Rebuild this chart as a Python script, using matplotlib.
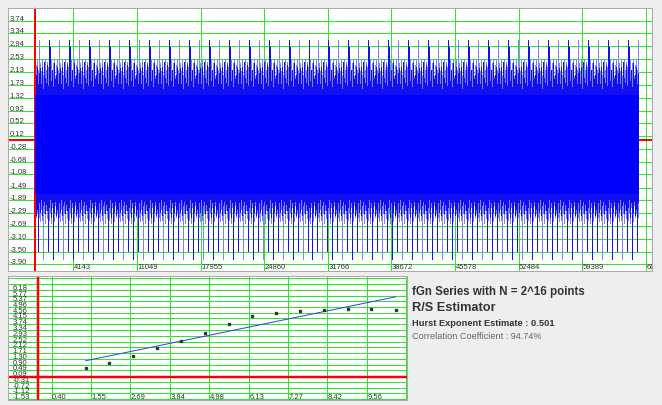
import numpy as np
import matplotlib
matplotlib.use('Agg')
import matplotlib.pyplot as plt
from matplotlib import transforms

plt.rcParams['font.family'] = ['Liberation Sans', 'DejaVu Sans']

# ---- data ----
n_points = 65536
top_xticks = [4143, 11049, 17955, 24860, 31766, 38672, 45578, 52484, 59389, 66295]
top_yticks = [3.74, 3.34, 2.94, 2.53, 2.13, 1.73, 1.32, 0.92, 0.52, 0.12,
              -0.28, -0.68, -1.08, -1.49, -1.89, -2.29, -2.69, -3.10, -3.50, -3.90]

# solid body of the fGn trace, and one repeating block of 20 pixel columns
# (the trace repeats itself every ~10 px, spikes read from top/bottom edges)
core_top = 1.40
core_bottom = -1.70
upper_light = [3.13, 2.40, 2.15, 2.50, 2.05, 2.35, 2.55, 2.20, 2.45, 2.30,
               2.60, 2.25, 2.50, 2.10, 2.40, 2.55, 2.00, 2.35, 2.50, 2.20]
upper_dark = [2.10, 2.25, 1.75, 2.30, 1.60, 2.45, 1.95, 1.80, 2.35, 1.70,
              3.13, 2.90, 1.85, 2.20, 1.65, 2.40, 1.90, 2.05, 2.30, 1.75]
lower_light = [-2.40, -2.55, -2.15, -2.50, -3.73, -2.30, -2.60, -2.20, -2.45, -2.35,
               -2.50, -2.25, -2.60, -2.10, -2.45, -2.55, -2.05, -2.40, -2.30, -2.50]
lower_dark = [-1.95, -2.25, -1.85, -2.35, -2.05, -1.90, -2.30, -2.00, -2.20, -3.47,
              -2.10, -1.85, -2.40, -1.95, -3.73, -2.25, -1.90, -2.35, -2.15, -3.47]

# R/S estimator: ln(n) vs ln(R/S)
log_n = [1.39, 2.08, 2.77, 3.47, 4.16, 4.85, 5.55, 6.24, 6.93, 7.62, 8.32, 9.01, 9.70, 10.40]
log_rs = [0.66, 1.01, 1.52, 2.07, 2.58, 3.13, 3.76, 4.30, 4.54, 4.66, 4.75, 4.82, 4.84, 4.77]
hurst = 0.501
intercept = 0.47
corr = 94.74

bot_xticks = [0.40, 1.55, 2.69, 3.84, 4.98, 6.13, 7.27, 8.42, 9.56, 10.71]
bot_yticks = [6.18, 5.77, 5.37, 4.96, 4.56, 4.15, 3.74, 3.34, 2.93, 2.52,
              2.12, 1.71, 1.30, 0.90, 0.49, 0.09, -0.31, -0.72, -1.12, -1.53]
bot_extra_grid = [6.59, 6.99]

# ---- style ----
W, H = 662, 406
green = '#2EE62E'
red = '#FF0000'
blue = '#0000FF'
light_blue = '#8080FF'
dark_blue = '#1010F0'
txt = '#333333'
px = 0.72  # one pixel in points

fig = plt.figure(figsize=(W / 100, H / 100), dpi=100, facecolor='#EEEEEE')


def box(l, t, r, b):
    return [l / W, 1 - b / H, (r - l) / W, (b - t) / H]


# ===== top panel: the series =====
ax = fig.add_axes(box(8, 9, 651.7, 271.7))
ax.set_facecolor('white')
ax.set_xlim(-2941, 66927)
ax.set_ylim(-4.097, 4.138)
ax.set_xticks([])
ax.set_yticks([])
for s in ax.spines.values():
    s.set_color('#A8A8A8')
    s.set_linewidth(0.7)

for y in top_yticks:
    ax.axhline(y, color=green, lw=px, zorder=0.5)
for x in top_xticks:
    ax.axvline(x, color=green, lw=px, zorder=0.5)
ax.axhline(0, color=red, lw=2 * px, zorder=1)
ax.axvline(0, color=red, lw=2 * px, zorder=1)

n_cols = 604
block = len(upper_light)
col_w = n_points / n_cols
cols = np.arange(n_cols)
xs = cols * col_w + col_w / 2
idx = (cols - 3) % block
ax.fill_between([0, n_points], core_bottom, core_top, color=blue, lw=0, zorder=2.5)
for hi, c, z in [(upper_light, light_blue, 2), (upper_dark, dark_blue, 2.1)]:
    ax.vlines(xs, core_top, np.array(hi)[idx], colors=c, lw=px, zorder=z,
              antialiased=False)
for lo, c, z in [(lower_light, light_blue, 2), (lower_dark, dark_blue, 2.1)]:
    ax.vlines(xs, core_bottom, np.array(lo)[idx], colors=c, lw=px, zorder=z,
              antialiased=False)

ytr = transforms.offset_copy(ax.get_yaxis_transform(), fig=fig, y=1, units='dots')
for y in top_yticks:
    ax.text(0.002, y, '%.2f' % y, transform=ytr, fontsize=5.5, color=txt,
            ha='left', va='baseline', zorder=3)
xtr = transforms.offset_copy(ax.get_xaxis_transform(), fig=fig, x=0.5, units='dots')
for x in top_xticks:
    ax.text(x, 0.016, '%d' % x, transform=xtr, fontsize=5.5, color=txt,
            ha='left', va='center', zorder=3, clip_on=True)

# ===== bottom panel: R/S estimator =====
bx = fig.add_axes(box(8, 277, 407, 401))
bx.set_facecolor('white')
bx.set_xlim(-0.869, 10.733)
bx.set_ylim(-1.602, 7.149)
bx.set_xticks([])
bx.set_yticks([])
for s in bx.spines.values():
    s.set_color('#A8A8A8')
    s.set_linewidth(0.7)

for y in bot_yticks + bot_extra_grid:
    bx.axhline(y, color=green, lw=px, zorder=0.5)
for x in bot_xticks:
    bx.axvline(x, color=green, lw=px, zorder=0.5)
bx.axhline(0, color=red, lw=2.5 * px, zorder=1)
bx.axvline(0, color=red, lw=2.5 * px, zorder=1)

fit_x = np.array([log_n[0], log_n[-1]])
bx.plot(fit_x, intercept + hurst * fit_x, color='#3C3CF0', lw=px, zorder=2)
bx.plot(log_n, log_rs, ls='none', marker='s', ms=1.5, color='#333333', zorder=3)

ytr = transforms.offset_copy(bx.get_yaxis_transform(), fig=fig, y=1, units='dots')
for y in bot_yticks:
    bx.text(0.011, y, '%.2f' % y, transform=ytr, fontsize=5.5, color=txt,
            ha='left', va='baseline', zorder=4)
xtr = transforms.offset_copy(bx.get_xaxis_transform(), fig=fig, x=0.5, units='dots')
for x in bot_xticks:
    bx.text(x, 0.027, '%.2f' % x, transform=xtr, fontsize=5.5, color=txt,
            ha='left', va='center', zorder=4, clip_on=True)

# ===== info text =====
tx = 411.7 / W
fig.text(tx, 1 - 291.7 / H, 'fGn Series with N = 2^16 points', fontsize=8.3,
         fontweight='bold', color=txt, ha='left', va='center')
fig.text(tx, 1 - 308.5 / H, 'R/S Estimator', fontsize=9.2,
         fontweight='bold', color=txt, ha='left', va='center')
fig.text(tx, 1 - 323.5 / H, 'Hurst Exponent Estimate : %.3f' % hurst, fontsize=6.7,
         fontweight='bold', color=txt, ha='left', va='center')
fig.text(tx, 1 - 336.5 / H, 'Correlation Coefficient : %.2f%%' % corr, fontsize=6.6,
         color='#666666', ha='left', va='center')

fig.savefig('out.png', dpi=100, facecolor=fig.get_facecolor())
